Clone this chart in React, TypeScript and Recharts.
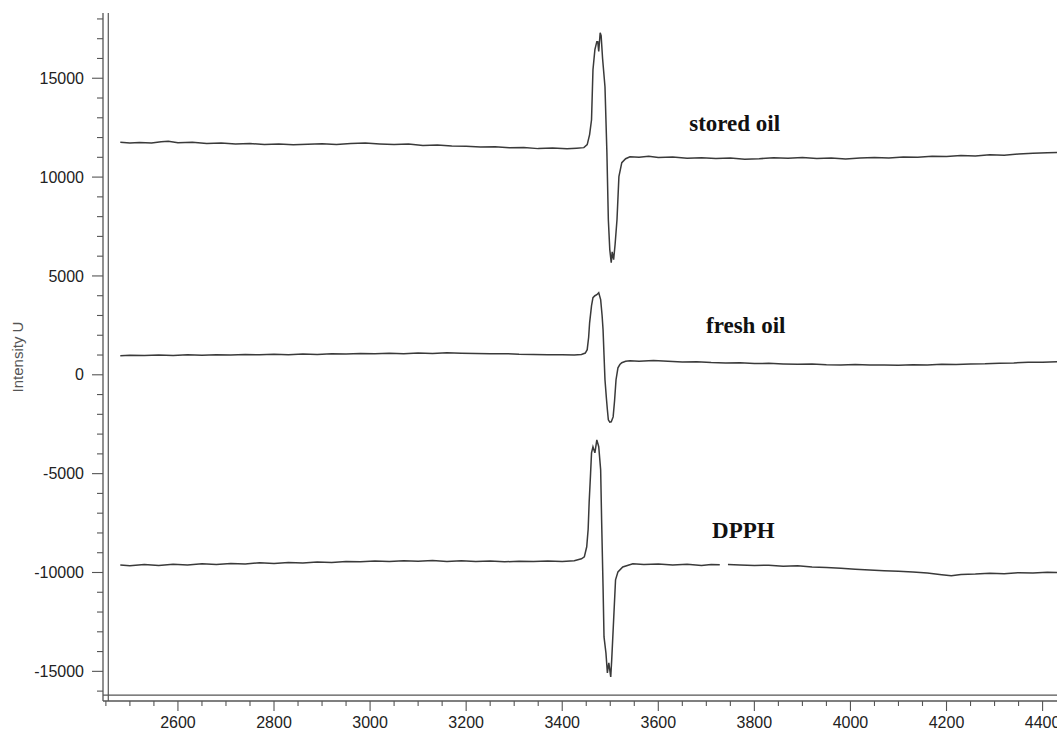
import { LineChart, Line, XAxis, YAxis, ReferenceLine, ReferenceDot } from 'recharts';

// magnetic field (G) and intensity
const storedField = [2480, 2500, 2520, 2545, 2565, 2580, 2600, 2630, 2660, 2690, 2720, 2750, 2780, 2810, 2840, 2870, 2900, 2930, 2960, 2990, 3020, 3050, 3080, 3110, 3140, 3170, 3200, 3230, 3260, 3290, 3320, 3350, 3380, 3410, 3430, 3445,
    3452, 3457, 3461, 3464, 3468, 3472, 3474, 3476, 3479, 3481, 3484, 3489, 3493, 3496, 3499, 3502, 3504, 3507, 3510, 3514, 3518, 3524, 3532, 3541,
    3560, 3580, 3600, 3630, 3660, 3690, 3720, 3750, 3780, 3810, 3840, 3870, 3900, 3930, 3960, 3990, 4020, 4050, 4080, 4110, 4140, 4170, 4200, 4230, 4260, 4290, 4320, 4350, 4380, 4410, 4430];
const storedVal = [11760, 11720, 11750, 11730, 11790, 11810, 11740, 11760, 11700, 11720, 11680, 11700, 11650, 11680, 11640, 11660, 11690, 11650, 11700, 11720, 11680, 11650, 11670, 11600, 11620, 11570, 11560, 11520, 11540, 11480, 11500, 11440, 11470, 11430, 11460, 11490,
    11640, 12150, 12900, 15430, 16450, 16850, 16850, 16350, 17300, 17150, 16000, 14570, 11230, 7840, 6330, 5670, 6220, 5820, 6580, 7840, 10020, 10730, 10930, 11030,
    11000, 11050, 10990, 11010, 10950, 10980, 10940, 10960, 10900, 10930, 10980, 10950, 10990, 10940, 10970, 10920, 10960, 10990, 10970, 11020, 11000, 11050, 11040, 11090, 11070, 11130, 11110, 11170, 11200, 11230, 11250];

const freshField = [2480, 2500, 2530, 2560, 2590, 2620, 2650, 2680, 2710, 2740, 2770, 2800, 2830, 2860, 2890, 2920, 2950, 2980, 3010, 3040, 3070, 3100, 3130, 3160, 3190, 3220, 3250, 3280, 3310, 3340, 3370, 3400, 3425, 3440, 3448,
    3452, 3455, 3457, 3461, 3464, 3468, 3472, 3476, 3480, 3483, 3485, 3487, 3489, 3492, 3494, 3496, 3499, 3502, 3506, 3509, 3512, 3516, 3520, 3524, 3532, 3541,
    3560, 3590, 3620, 3650, 3680, 3710, 3740, 3770, 3800, 3830, 3860, 3890, 3920, 3950, 3980, 4010, 4040, 4070, 4100, 4130, 4160, 4190, 4220, 4250, 4280, 4310, 4340, 4370, 4400, 4430];
const freshVal = [960, 990, 970, 1000, 980, 1010, 990, 1020, 1000, 1030, 1010, 1040, 1020, 1050, 1030, 1060, 1050, 1080, 1060, 1090, 1070, 1100, 1080, 1110, 1090, 1080, 1060, 1070, 1040, 1030, 1010, 1020, 1000, 1030, 1100,
    1270, 1900, 2630, 3500, 3900, 4000, 4050, 4150, 3800, 3000, 2280, 1000, -250, -1200, -1770, -2280, -2400, -2380, -2130, -1300, -250, 350, 520, 610, 680, 710,
    690, 720, 680, 650, 660, 620, 600, 610, 570, 580, 550, 530, 540, 510, 500, 520, 490, 500, 480, 510, 500, 530, 520, 550, 560, 590, 600, 630, 640, 660];

const dpphField = [2480, 2500, 2530, 2560, 2590, 2620, 2650, 2680, 2710, 2740, 2770, 2800, 2830, 2860, 2890, 2920, 2950, 2980, 3010, 3040, 3070, 3100, 3130, 3160, 3190, 3220, 3250, 3280, 3310, 3340, 3370, 3400, 3425, 3440,
    3446, 3451, 3454, 3456, 3459, 3461, 3464, 3468, 3472, 3476, 3480, 3482, 3485, 3487, 3491, 3494, 3497, 3501, 3503, 3507, 3511, 3516, 3526, 3547,
    3570, 3600, 3630, 3660, 3690, 3710, 3728, 3736, 3745, 3770, 3800, 3830, 3860, 3890, 3920, 3950, 3980, 4010, 4040, 4070, 4100, 4130, 4160, 4190, 4210, 4230, 4260, 4290, 4320, 4350, 4380, 4410, 4430];
const dpphVal: (number | null)[] = [-9620, -9660, -9600, -9640, -9580, -9620, -9560, -9600, -9540, -9570, -9510, -9550, -9490, -9520, -9470, -9500, -9440, -9460, -9420, -9450, -9400, -9430, -9390, -9440, -9410, -9450, -9420, -9460, -9430, -9450, -9420, -9440, -9400, -9310,
    -9210, -8700, -7800, -6480, -5000, -3950, -3640, -3950, -3290, -3640, -4810, -7340, -10730, -13260, -14070, -15080, -14570, -15280, -14420, -12400, -10370, -9970, -9720, -9560,
    -9600, -9570, -9620, -9580, -9640, -9600, -9610, null, -9590, -9620, -9650, -9630, -9680, -9660, -9720, -9750, -9790, -9830, -9870, -9910, -9940, -9980, -10030, -10120, -10170, -10100, -10080, -10040, -10060, -10010, -10030, -9990, -10000];

// every 50 G, labelled every 200 G
const xTicks = [2450, 2500, 2550, 2600, 2650, 2700, 2750, 2800, 2850, 2900, 2950, 3000, 3050, 3100, 3150, 3200, 3250, 3300, 3350, 3400, 3450, 3500, 3550, 3600, 3650, 3700, 3750, 3800, 3850, 3900, 3950, 4000, 4050, 4100, 4150, 4200, 4250, 4300, 4350, 4400];
// every 1000, labelled every 5000
const yTicks = [-16000, -15000, -14000, -13000, -12000, -11000, -10000, -9000, -8000, -7000, -6000, -5000, -4000, -3000, -2000, -1000, 0, 1000, 2000, 3000, 4000, 5000, 6000, 7000, 8000, 9000, 10000, 11000, 12000, 13000, 14000, 15000, 16000, 17000, 18000];

const labels = [
    { text: 'stored oil', x: 3759, y: 12750 },
    { text: 'fresh oil', x: 3782, y: 2530 },
    { text: 'DPPH', x: 3777, y: -7840 },
];

const toPoints = (f: number[], v: (number | null)[]) => f.map((x, i) => ({ field: x, v: v[i] }));

const stored = toPoints(storedField, storedVal);
const fresh = toPoints(freshField, freshVal);
const dpph = toPoints(dpphField, dpphVal);

const X_DOMAIN = [2444, 4430];
const Y_DOMAIN = [-16500, 18300];
const axisColor = '#555';
const lineColor = '#3a3a3a';
const sans = 'Liberation Sans, Arial, sans-serif';

const XTick = (props: any) => {
    const { x, y, payload } = props;
    const major = payload.value % 200 === 0;
    return (
        <g>
            <line x1={x} x2={x} y1={y} y2={y + (major ? 10 : 5)} stroke={axisColor} strokeWidth={1.1} />
            {major && <text x={x} y={y + 27} textAnchor="middle" fill="#222" fontSize={16} fontFamily={sans}>{payload.value}</text>}
        </g>
    );
};

const YTick = (props: any) => {
    const { x, y, payload } = props;
    const major = payload.value % 5000 === 0;
    return (
        <g>
            <line x1={x} x2={x - (major ? 11 : 6)} y1={y} y2={y} stroke={axisColor} strokeWidth={1.1} />
            {major && <text x={x - 19} y={y} dy="0.35em" textAnchor="end" fill="#222" fontSize={16} fontFamily={sans}>{payload.value}</text>}
        </g>
    );
};

export default function App() {
    return (
        <div style={{ position: 'absolute', left: 0, top: 0, width: 1057, height: 731, background: '#fff' }}>
            <LineChart width={1057} height={731} margin={{ top: 13, right: 0, bottom: 0, left: 0 }}>
                <XAxis type="number" dataKey="field" domain={X_DOMAIN} allowDataOverflow
                    ticks={xTicks} interval={0} height={30} tickSize={0} tickMargin={0} tickLine={false}
                    axisLine={{ stroke: axisColor, strokeWidth: 1.3 }} tick={<XTick />} />
                <YAxis type="number" domain={Y_DOMAIN} allowDataOverflow
                    ticks={yTicks} interval={0} width={103} tickSize={0} tickMargin={0} tickLine={false}
                    axisLine={{ stroke: axisColor, strokeWidth: 1.3 }} tick={<YTick />}
                    label={{ value: 'Intensity U', angle: -90, position: 'insideLeft', offset: 18,
                        style: { textAnchor: 'middle', fill: '#555', fontSize: 15, fontFamily: sans } }} />
                <ReferenceLine x={2455} stroke={axisColor} strokeWidth={1.2} />
                <ReferenceLine y={-16200} stroke={axisColor} strokeWidth={1.3} />
                <Line data={stored} dataKey="v" type="linear" stroke={lineColor} strokeWidth={1.5} dot={false} isAnimationActive={false} />
                <Line data={fresh} dataKey="v" type="linear" stroke={lineColor} strokeWidth={1.5} dot={false} isAnimationActive={false} />
                <Line data={dpph} dataKey="v" type="linear" stroke={lineColor} strokeWidth={1.5} dot={false} connectNulls={false} isAnimationActive={false} />
                {labels.map(l => (
                    <ReferenceDot key={l.text} x={l.x} y={l.y} r={0} fill="none" stroke="none"
                        label={{ value: l.text, position: 'center', fill: '#111', fontSize: 23, fontWeight: 'bold', fontFamily: 'Liberation Serif, Times New Roman, serif' }} />
                ))}
            </LineChart>
        </div>
    );
}
